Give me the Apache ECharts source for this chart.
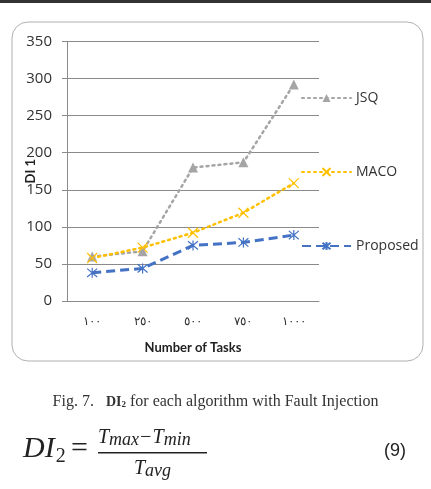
<!DOCTYPE html>
<html>
<head>
<meta charset="utf-8">
<script src="https://cdn.jsdelivr.net/npm/echarts@6/dist/echarts.min.js"></script>
<style>
html,body{margin:0;padding:0;background:#fff;}
#main{width:431px;height:489px;}
</style>
</head>
<body>
<div id="main"></div>
<script>
// categories (Arabic-Indic digits as in the figure)
var tasks = ['١٠٠', '٢٥٠', '٥٠٠', '٧٥٠', '١٠٠٠'];
var jsq = [60, 67, 180, 187, 292];
var maco = [58, 72, 92, 119, 159];
var proposed = [38, 44, 75, 79, 89];
var yTicks = [0, 50, 100, 150, 200, 250, 300, 350];

var xPath = 'path://M0,0L10,10M10,0L0,10';
var starPath = 'path://M0,0L10,10M10,0L0,10M5,-1L5,11';

var chart = echarts.init(document.getElementById('main'));
var option = {
    animation: false,
    textStyle: {fontFamily: 'Lato'},
    grid: {left: 67, right: 112, top: 41.5, bottom: 188},
    legend: {
        orient: 'vertical',
        left: 296,
        top: 86,
        itemWidth: 49,
        itemHeight: 10,
        itemGap: 60,
        textStyle: {fontSize: 14, color: '#333', fontFamily: 'Open Sans'},
        data: ['JSQ', 'MACO', 'Proposed']
    },
    xAxis: {
        type: 'category',
        data: tasks,
        name: 'Number of Tasks',
        nameLocation: 'middle',
        nameGap: 40,
        nameMoveOverlap: false,
        nameTextStyle: {fontSize: 13, fontWeight: 'bold', color: '#222'},
        axisLine: {lineStyle: {color: '#8a8a8a', width: 1}},
        axisTick: {show: false},
        axisLabel: {fontSize: 12, color: '#333', margin: 14}
    },
    yAxis: {
        type: 'value',
        min: yTicks[0],
        max: yTicks[yTicks.length - 1],
        interval: 50,
        name: 'DI 1',
        nameLocation: 'middle',
        nameRotate: 90,
        nameGap: 30,
        nameMoveOverlap: false,
        nameTextStyle: {fontSize: 13, fontWeight: 'bold', color: '#222'},
        axisLine: {show: true, lineStyle: {color: '#8a8a8a', width: 1}},
        axisTick: {show: true, length: 5, lineStyle: {color: '#8a8a8a'}},
        axisLabel: {fontSize: 15, color: '#333', margin: 15, fontFamily: 'Open Sans'},
        splitLine: {lineStyle: {color: '#8a8a8a', width: 1}}
    },
    series: [{
        name: 'JSQ',
        type: 'line',
        data: jsq,
        symbol: 'triangle',
        symbolSize: 10,
        itemStyle: {color: '#a5a5a5'},
        lineStyle: {color: '#a5a5a5', width: 2.5, type: [2, 4], cap: 'round'}
    }, {
        name: 'MACO',
        type: 'line',
        data: maco,
        symbol: xPath,
        symbolSize: 10,
        itemStyle: {color: 'none', borderColor: '#ffc000', borderWidth: 1.2},
        lineStyle: {color: '#ffc000', width: 2.5, type: [2, 4], cap: 'round'}
    }, {
        name: 'Proposed',
        type: 'line',
        data: proposed,
        symbol: starPath,
        symbolSize: 10,
        itemStyle: {color: 'none', borderColor: '#4472c4', borderWidth: 1.2},
        lineStyle: {color: '#4472c4', width: 3, type: [9, 5]}
    }],
    graphic: [{
        type: 'rect',
        shape: {x: 0, y: 0, width: 431, height: 3},
        style: {fill: '#333'},
        silent: true
    }, {
        type: 'rect',
        shape: {x: 12, y: 22, width: 411, height: 339, r: 16},
        style: {fill: 'none', stroke: '#b0b0b0', lineWidth: 1},
        silent: true,
        z: -1
    }, {
        type: 'text',
        left: 'center',
        top: 394,
        style: {
            text: 'Fig. 7.   {b|DI}{s|2} for each algorithm with Fault Injection',
            font: '16px "Liberation Serif"',
            fill: '#333',
            rich: {
                b: {fontFamily: 'Liberation Serif', fontSize: 14, fontWeight: 'bold', fill: '#333'},
                s: {fontFamily: 'Liberation Serif', fontSize: 9, fontWeight: 'bold', fill: '#333', padding: [6, 0, 0, 0]}
            }
        }
    }, {
        type: 'text',
        left: 23,
        top: 434,
        style: {
            text: '{d|DI}{s|2} {e|=}',
            rich: {
                d: {fontFamily: 'Liberation Serif', fontStyle: 'italic', fontSize: 30, fill: '#222'},
                s: {fontFamily: 'Liberation Serif', fontSize: 20, fill: '#222', padding: [16, 0, 0, 1]},
                e: {fontFamily: 'Liberation Serif', fontSize: 30, fill: '#222', padding: [0, 0, 0, 2]}
            }
        }
    }, {
        type: 'text',
        left: 98,
        top: 428,
        style: {
            text: '{t|T}{u|max}{t|−T}{u|min}',
            rich: {
                t: {fontFamily: 'Liberation Serif', fontStyle: 'italic', fontSize: 20, fill: '#222'},
                u: {fontFamily: 'Liberation Serif', fontStyle: 'italic', fontSize: 18, fill: '#222', padding: [5, 0, 0, 0]}
            }
        }
    }, {
        type: 'rect',
        shape: {x: 98, y: 452, width: 109, height: 1.5},
        style: {fill: '#222'},
        silent: true
    }, {
        type: 'text',
        left: 134,
        top: 459,
        style: {
            text: '{t|T}{u|avg}',
            rich: {
                t: {fontFamily: 'Liberation Serif', fontStyle: 'italic', fontSize: 20, fill: '#222'},
                u: {fontFamily: 'Liberation Serif', fontStyle: 'italic', fontSize: 18, fill: '#222', padding: [5, 0, 0, 0]}
            }
        }
    }, {
        type: 'text',
        left: 384,
        top: 442,
        style: {
            text: '(9)',
            font: '18px "Liberation Sans"',
            fill: '#222'
        }
    }]
};
chart.setOption(option);
</script>
</body>
</html>
